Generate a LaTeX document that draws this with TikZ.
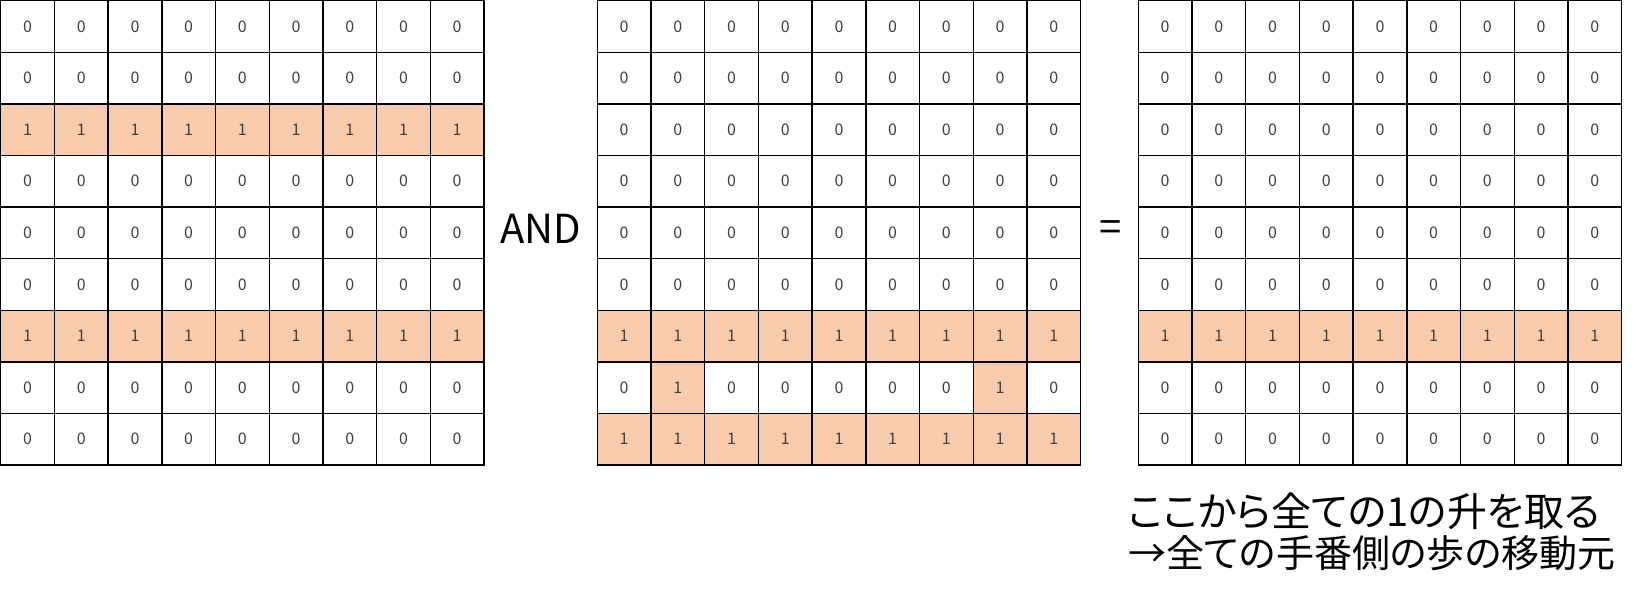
\documentclass[tikz,border=0pt]{standalone}
\usepackage{fontspec}
\setmainfont{Noto Sans CJK JP}
\newfontfamily\cjkp[RawFeature=+palt]{Noto Sans CJK JP}
\definecolor{peach}{HTML}{F8CBAD}
\definecolor{digit}{HTML}{404040}
\begin{document}
\begin{tikzpicture}[x=0.5pt,y=-0.5pt,
  cell/.style={draw=black, line width=0.7pt, minimum width=26.85pt, minimum height=25.8pt,
    inner sep=0pt, text=digit, font=\fontsize{8}{8}\selectfont},
  op/.style={inner sep=0pt, font=\fontsize{20}{20}\selectfont, text=black},
  note/.style={inner sep=0pt, align=left, font=\cjkp\fontsize{20}{20.6}\selectfont, text=black, anchor=north west}]
\useasboundingbox (0,0) rectangle (1648,603);
\def\cw{53.7}
\def\ch{51.59}
\foreach \g/\gx in {1/0.7, 2/597.3, 3/1138.3}{
  \foreach \r in {1,...,9}{
    \foreach \c in {1,...,9}{
      \pgfmathtruncatemacro\v{(\g==1)*((\r==3)||(\r==7)) + (\g==2)*((\r==7)||(\r==9)||((\r==8)&&((\c==2)||(\c==8)))) + (\g==3)*(\r==7)}
      \ifnum\v=1 \def\cellfill{peach}\else\def\cellfill{white}\fi
      \node[cell, fill=\cellfill] (g\g-\r-\c) at ({\gx + (\c-0.5)*\cw}, {0.7 + (\r-0.5)*\ch}) {\v};
    }
  }
}
\node[op] (and) at (541,229) {AND};
\node[op] (eq) at (1111,231) {=};
\node[note] (note) at (1128,492) {ここから全ての1の升を取る\\{\fontsize{19}{19}\selectfont →全ての手番側の歩の移動元}};
\end{tikzpicture}
\end{document}
